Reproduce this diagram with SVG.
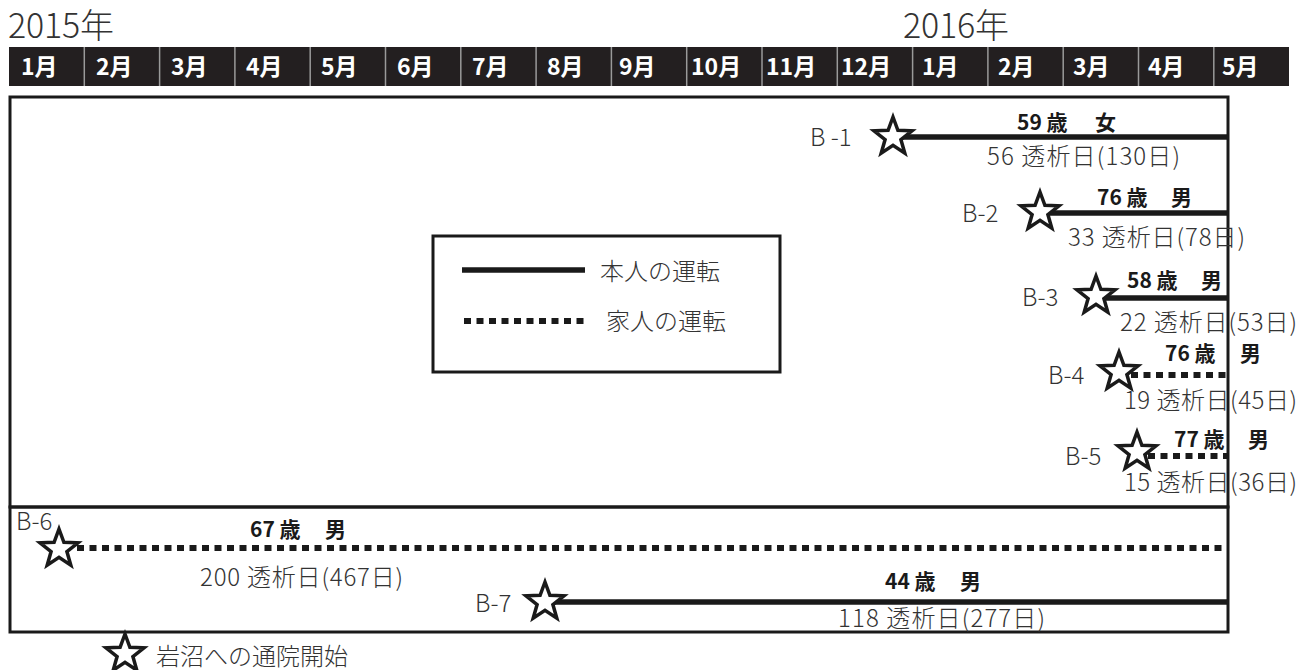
<svg xmlns="http://www.w3.org/2000/svg" width="1299" height="670" viewBox="0 0 1299 670">
<style>
text{font-family:"Noto Sans CJK JP","Noto Sans",sans-serif;fill:#333}
.yr{font-size:34px;font-weight:300}
.mo{font-size:23px;fill:#fff;font-weight:bold}
.lbl{font-size:24px;font-weight:300}
.age{font-size:21px;font-weight:bold;fill:#1a1a1a}
.solid{stroke:#1a1a1a;stroke-width:5.5;fill:none}
.dot{stroke:#1a1a1a;stroke-width:6;stroke-dasharray:7 5.5;fill:none}
.box{fill:none;stroke:#1a1a1a;stroke-width:3}
.sep{stroke:#9a9a9a;stroke-width:1.5}
</style>
<defs>
<path id="star" d="M0,-20 L4.9,-6.7 L19,-6.2 L7.9,2.6 L11.8,16.2 L0,8.3 L-11.8,16.2 L-7.9,2.6 L-19,-6.2 L-4.9,-6.7 Z" fill="#fff" stroke="#1a1a1a" stroke-width="3.5" stroke-linejoin="miter"/>
</defs>
<rect width="1299" height="670" fill="#fff"/>
<g id="years">
<text class="yr" x="8" y="38" textLength="106">2015年</text>
<text class="yr" x="903" y="38" textLength="106">2016年</text>
</g>
<g id="header">
<rect x="9" y="47" width="1280" height="39" fill="#231f20"/>
<g class="sep">
<line x1="84.3" y1="47" x2="84.3" y2="86"/><line x1="159.6" y1="47" x2="159.6" y2="86"/><line x1="234.9" y1="47" x2="234.9" y2="86"/><line x1="310.2" y1="47" x2="310.2" y2="86"/><line x1="385.5" y1="47" x2="385.5" y2="86"/><line x1="460.8" y1="47" x2="460.8" y2="86"/><line x1="536.1" y1="47" x2="536.1" y2="86"/><line x1="611.4" y1="47" x2="611.4" y2="86"/><line x1="686.7" y1="47" x2="686.7" y2="86"/><line x1="762" y1="47" x2="762" y2="86"/><line x1="837.3" y1="47" x2="837.3" y2="86"/><line x1="912.6" y1="47" x2="912.6" y2="86"/><line x1="987.9" y1="47" x2="987.9" y2="86"/><line x1="1063.2" y1="47" x2="1063.2" y2="86"/><line x1="1138.5" y1="47" x2="1138.5" y2="86"/><line x1="1213.8" y1="47" x2="1213.8" y2="86"/>
</g>
<text class="mo" x="21" y="75">1月</text>
<text class="mo" x="96" y="75">2月</text>
<text class="mo" x="171" y="75">3月</text>
<text class="mo" x="246" y="75">4月</text>
<text class="mo" x="321" y="75">5月</text>
<text class="mo" x="397" y="75">6月</text>
<text class="mo" x="472" y="75">7月</text>
<text class="mo" x="547" y="75">8月</text>
<text class="mo" x="619" y="75">9月</text>
<text class="mo" x="691" y="75">10月</text>
<text class="mo" x="766" y="75">11月</text>
<text class="mo" x="841" y="75">12月</text>
<text class="mo" x="922" y="75">1月</text>
<text class="mo" x="998" y="75">2月</text>
<text class="mo" x="1073" y="75">3月</text>
<text class="mo" x="1148" y="75">4月</text>
<text class="mo" x="1222" y="75">5月</text>
</g>
<g id="frames">
<rect class="box" x="10" y="97" width="1218" height="410"/>
<rect class="box" x="10" y="507" width="1218" height="125"/>
</g>
<g id="legend">
<rect class="box" x="433" y="236" width="347" height="136"/>
<line class="solid" x1="462" y1="270" x2="585" y2="270"/>
<text class="lbl" x="600" y="280" font-size="25">本人の運転</text>
<line class="dot" x1="464" y1="321" x2="585" y2="321"/>
<text class="lbl" x="606" y="330" font-size="25">家人の運転</text>
</g>
<g id="connectors">
<line class="solid" x1="893" y1="137" x2="1228" y2="137"/>
<line class="solid" x1="1040" y1="213" x2="1228" y2="213"/>
<line class="solid" x1="1096" y1="298" x2="1228" y2="298"/>
<line class="dot" x1="1131" y1="375" x2="1228" y2="375"/>
<line class="dot" x1="1148" y1="456" x2="1228" y2="456"/>
<line class="dot" x1="77" y1="548" x2="1228" y2="548"/>
<line class="solid" x1="545" y1="602" x2="1228" y2="602"/>
</g>
<g id="B1">
<use href="#star" x="893" y="137"/>
<text class="lbl" x="810" y="146">B -1</text>
<text class="age" x="1017" y="130">59 歳</text><text class="age" x="1095" y="130">女</text>
<text class="lbl" x="987" y="165" textLength="193">56 透析日(130日)</text>
</g>
<g id="B2">
<use href="#star" x="1040" y="212"/>
<text class="lbl" x="962" y="222">B-2</text>
<text class="age" x="1097" y="205">76 歳</text><text class="age" x="1171" y="205">男</text>
<text class="lbl" x="1068" y="246" textLength="177">33 透析日(78日)</text>
</g>
<g id="B3">
<use href="#star" x="1096" y="296"/>
<text class="lbl" x="1022" y="306">B-3</text>
<text class="age" x="1127" y="288">58 歳</text><text class="age" x="1201" y="288">男</text>
<text class="lbl" x="1120" y="331" textLength="177">22 透析日(53日)</text>
</g>
<g id="B4">
<use href="#star" x="1119" y="372"/>
<text class="lbl" x="1048" y="384">B-4</text>
<text class="age" x="1165" y="361">76 歳</text><text class="age" x="1240" y="361">男</text>
<text class="lbl" x="1124" y="409" textLength="173">19 透析日(45日)</text>
</g>
<g id="B5">
<use href="#star" x="1137" y="452"/>
<text class="lbl" x="1065" y="465">B-5</text>
<text class="age" x="1174" y="447">77 歳</text><text class="age" x="1248" y="447">男</text>
<text class="lbl" x="1124" y="491" textLength="173">15 透析日(36日)</text>
</g>
<g id="B6">
<use href="#star" x="59" y="549"/>
<text class="lbl" x="16" y="530">B-6</text>
<text class="age" x="250" y="537">67 歳</text><text class="age" x="325" y="537">男</text>
<text class="lbl" x="200" y="586" textLength="203">200 透析日(467日)</text>
</g>
<g id="B7">
<use href="#star" x="545" y="602"/>
<text class="lbl" x="475" y="612">B-7</text>
<text class="age" x="885" y="589">44 歳</text><text class="age" x="960" y="589">男</text>
<text class="lbl" x="838" y="627" textLength="207">118 透析日(277日)</text>
</g>
<g id="footer">
<use href="#star" x="125" y="654"/>
<text class="lbl" x="156" y="665" font-size="23">岩沼への通院開始</text>
</g>
</svg>
